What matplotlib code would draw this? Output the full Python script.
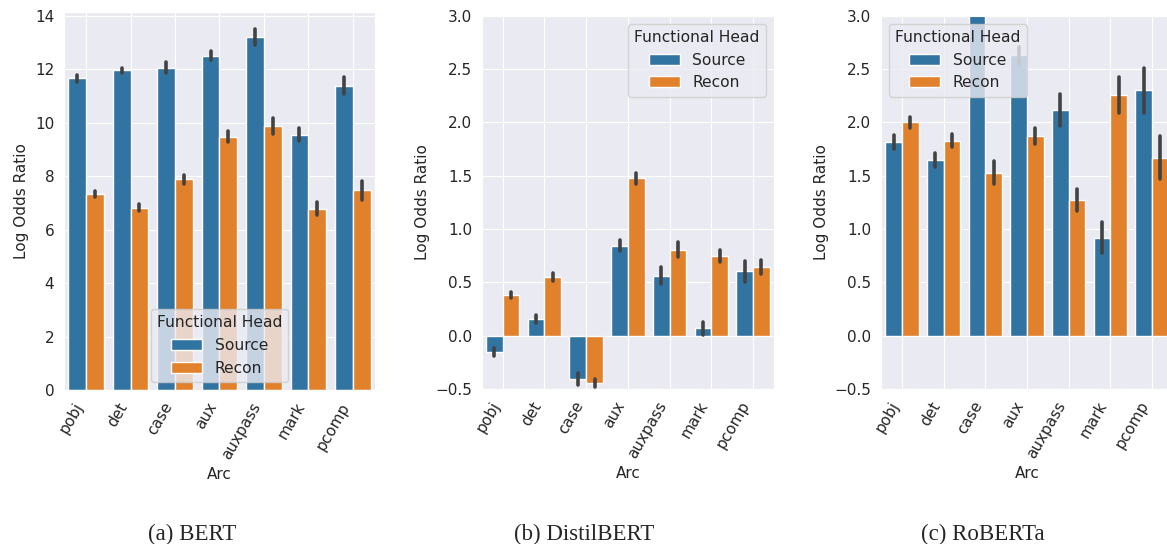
import numpy as np
import matplotlib
matplotlib.use("Agg")
import matplotlib.pyplot as plt
import seaborn as sns

arcs = ["pobj", "det", "case", "aux", "auxpass", "mark", "pcomp"]
heads = ["Source", "Recon"]

# BERT
bert_source = [11.66, 11.97, 12.07, 12.52, 13.23, 9.56, 11.39]
bert_source_err = [0.12, 0.10, 0.20, 0.18, 0.30, 0.25, 0.32]
bert_recon = [7.33, 6.83, 7.89, 9.48, 9.89, 6.78, 7.47]
bert_recon_err = [0.12, 0.14, 0.17, 0.20, 0.30, 0.24, 0.34]

# DistilBERT
distil_source = [-0.153, 0.156, -0.406, 0.844, 0.563, 0.069, 0.603]
distil_source_err = [0.04, 0.035, 0.06, 0.05, 0.08, 0.06, 0.10]
distil_recon = [0.384, 0.55, -0.444, 1.475, 0.806, 0.744, 0.644]
distil_recon_err = [0.03, 0.035, 0.035, 0.05, 0.07, 0.055, 0.07]

# RoBERTa (case/Source runs past the top of the axis)
roberta_source = [1.82, 1.65, 3.40, 2.63, 2.12, 0.92, 2.30]
roberta_source_err = [0.065, 0.065, 0.15, 0.08, 0.15, 0.145, 0.21]
roberta_recon = [2.00, 1.83, 1.53, 1.875, 1.27, 2.26, 1.67]
roberta_recon_err = [0.055, 0.065, 0.105, 0.075, 0.105, 0.17, 0.20]

captions = ["(a) BERT", "(b) DistilBERT", "(c) RoBERTa"]

sns.set_style("darkgrid")
plt.rcParams["font.family"] = ["DejaVu Sans"]

colors = sns.color_palette("tab10", 2, desat=0.75)
err_color = "#424242"


def draw_panel(ax, source, source_err, recon, recon_err, ylim, yticks, legend_loc):
    x = np.arange(len(arcs))
    width = 0.4
    series = [(source, source_err), (recon, recon_err)]
    for k, (vals, errs) in enumerate(series):
        pos = x - width / 2 + k * width
        ax.bar(pos, vals, width=width, color=colors[k], label=heads[k],
               edgecolor="white", linewidth=1)
        vals = np.asarray(vals)
        errs = np.asarray(errs)
        ax.vlines(pos, vals - errs, vals + errs, color=err_color,
                  linewidth=2.6, capstyle="round", zorder=3)
    ax.set_xlim(-0.5, len(arcs) - 0.5)
    ax.set_ylim(*ylim)
    ax.set_yticks(yticks)
    ax.set_xticks(x)
    ax.set_xticklabels(arcs, rotation=60, ha="right", fontsize=11)
    ax.tick_params(axis="y", labelsize=11)
    ax.set_xlabel("Arc", fontsize=11)
    ax.set_ylabel("Log Odds Ratio", fontsize=11)
    ax.legend(title="Functional Head", loc=legend_loc, fontsize=11.2,
              title_fontsize=11.2)


fig = plt.figure(figsize=(11.67, 5.44), dpi=100)
ax1 = fig.add_axes([0.0548, 0.283, 0.2665, 0.695])
ax2 = fig.add_axes([0.413, 0.285, 0.250, 0.686])
ax3 = fig.add_axes([0.755, 0.285, 0.250, 0.686])

draw_panel(ax1, bert_source, bert_source_err, bert_recon, bert_recon_err,
           (0, 14.15), np.arange(0, 15, 2), "lower center")
draw_panel(ax2, distil_source, distil_source_err, distil_recon, distil_recon_err,
           (-0.5, 3.0), np.arange(-0.5, 3.01, 0.5), "upper right")
draw_panel(ax3, roberta_source, roberta_source_err, roberta_recon, roberta_recon_err,
           (-0.5, 3.0), np.arange(-0.5, 3.01, 0.5), "upper left")

for xc, cap in zip([0.1645, 0.5005, 0.842], captions):
    fig.text(xc, 0.0065, cap, ha="center", va="baseline",
             family="Liberation Serif", fontsize=16.5)

fig.savefig("out.png", dpi=100)
